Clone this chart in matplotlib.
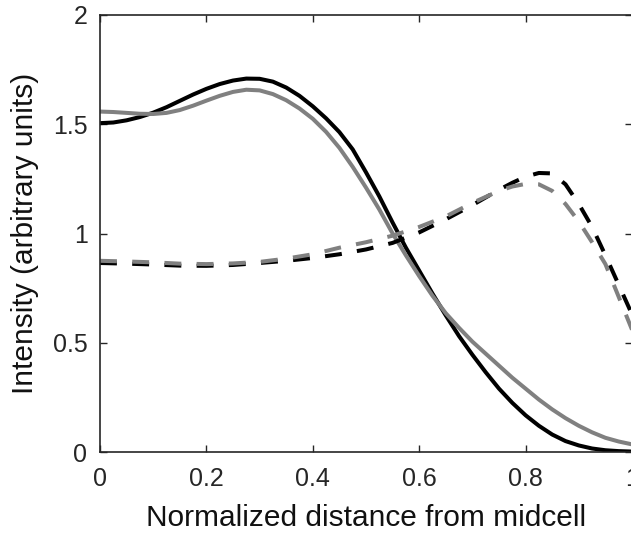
import matplotlib
matplotlib.use("Agg")
import matplotlib.pyplot as plt

# Normalized position along the cell (0 = midcell, 1 = pole)
x_solid = [0.0, 0.025, 0.05, 0.075, 0.1, 0.125, 0.15, 0.175, 0.2, 0.225,
           0.25, 0.275, 0.3, 0.325, 0.35, 0.375, 0.4, 0.425, 0.45, 0.475,
           0.5, 0.525, 0.55, 0.575, 0.6, 0.625, 0.65, 0.675, 0.7, 0.725,
           0.75, 0.775, 0.8, 0.825, 0.85, 0.875, 0.9, 0.925, 0.95, 0.975, 1.0]

solid_black = [1.505, 1.508, 1.518, 1.533, 1.553, 1.578, 1.607, 1.636, 1.662, 1.684,
               1.700, 1.709, 1.708, 1.695, 1.668, 1.630, 1.582, 1.527, 1.464, 1.385,
               1.280, 1.170, 1.050, 0.935, 0.830, 0.725, 0.625, 0.530, 0.445, 0.365,
               0.290, 0.225, 0.168, 0.120, 0.080, 0.050, 0.030, 0.016, 0.008, 0.004, 0.002]

solid_gray = [1.558, 1.556, 1.552, 1.548, 1.547, 1.552, 1.565, 1.585, 1.608, 1.630,
              1.648, 1.658, 1.655, 1.638, 1.610, 1.572, 1.525, 1.465, 1.392, 1.305,
              1.210, 1.110, 1.000, 0.900, 0.805, 0.715, 0.635, 0.568, 0.505, 0.450,
              0.395, 0.340, 0.290, 0.240, 0.195, 0.155, 0.120, 0.090, 0.065, 0.048, 0.035]

x_dashed = [0.0, 0.05, 0.1, 0.15, 0.2, 0.25, 0.3, 0.35, 0.4, 0.45, 0.5, 0.55,
            0.6, 0.65, 0.7, 0.75, 0.775, 0.8, 0.825, 0.85, 0.875, 0.9, 0.925,
            0.95, 0.975, 1.0]

dashed_black = [0.865, 0.862, 0.858, 0.853, 0.852, 0.856, 0.865, 0.875, 0.888, 0.905,
                0.927, 0.957, 1.005, 1.065, 1.130, 1.200, 1.232, 1.260, 1.277, 1.275,
                1.225, 1.135, 1.030, 0.900, 0.765, 0.630]

dashed_gray = [0.875, 0.872, 0.868, 0.862, 0.860, 0.863, 0.870, 0.885, 0.905, 0.935,
               0.960, 0.990, 1.030, 1.078, 1.140, 1.195, 1.215, 1.227, 1.225, 1.195,
               1.135, 1.055, 0.960, 0.860, 0.710, 0.560]

x_ticks = [0, 0.2, 0.4, 0.6, 0.8, 1]
x_tick_labels = ["0", "0.2", "0.4", "0.6", "0.8", "1"]
y_ticks = [0, 0.5, 1, 1.5, 2]
y_tick_labels = ["0", "0.5", "1", "1.5", "2"]

plt.rcParams["font.family"] = ["Liberation Sans", "DejaVu Sans"]
axis_color = "#262626"
gray = "#808080"

fig = plt.figure(figsize=(6.31, 5.36), dpi=100)
ax = fig.add_axes([100 / 631, 84 / 536, 532 / 631, 437 / 536])

lw = 2.9
dash = (4.2, 3.8)
ax.plot(x_solid, solid_black, color="black", lw=lw, solid_capstyle="butt")
ax.plot(x_solid, solid_gray, color=gray, lw=lw, solid_capstyle="butt")
ax.plot(x_dashed, dashed_black, color="black", lw=lw, linestyle=(0, dash))
ax.plot(x_dashed, dashed_gray, color=gray, lw=lw, linestyle=(0, dash))

ax.set_xlim(0, 1)
ax.set_ylim(0, 2)
ax.set_xticks(x_ticks)
ax.set_xticklabels(x_tick_labels)
ax.set_yticks(y_ticks)
ax.set_yticklabels(y_tick_labels)

ax.tick_params(direction="in", length=5, width=1.0, color=axis_color,
               labelcolor=axis_color, labelsize=18, top=True, right=True)
ax.tick_params(axis="x", pad=11)
ax.tick_params(axis="y", pad=9)
for s in ax.spines.values():
    s.set_color(axis_color)
    s.set_linewidth(1.2)

ax.set_xlabel("Normalized distance from midcell", fontsize=21.5, color="#111111", labelpad=9)
ax.set_ylabel("Intensity (arbitrary units)", fontsize=21.5, color="#111111", labelpad=10)

fig.savefig("out.png", dpi=100)
